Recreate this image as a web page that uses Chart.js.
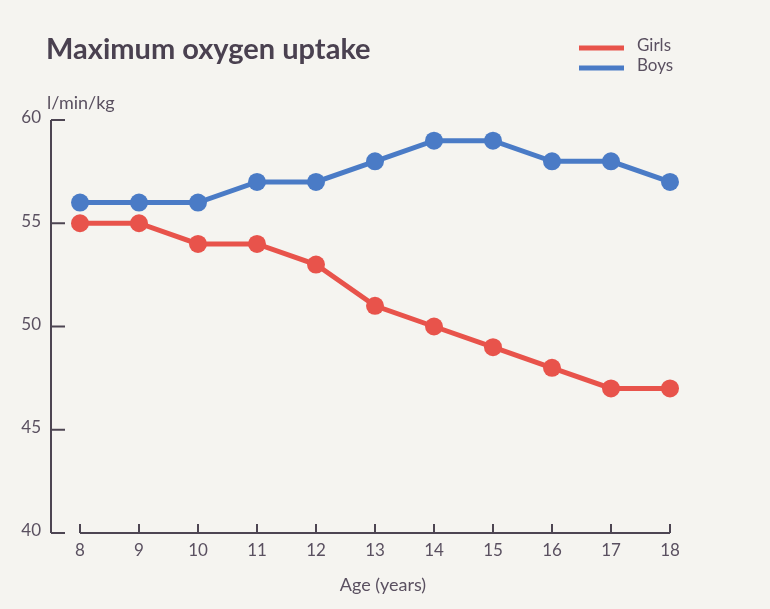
<!DOCTYPE html>
<html>
<head>
<meta charset="utf-8">
<script src="https://cdn.jsdelivr.net/npm/chart.js@4"></script>
<style>
  body { margin: 0; background: #f5f4f0; }
  #wrap { width: 770px; height: 609px; position: relative; }
</style>
</head>
<body>
<div id="wrap"><canvas id="myChart" width="770" height="609"></canvas></div>
<script>
// chart data
const ages = [8, 9, 10, 11, 12, 13, 14, 15, 16, 17, 18];
const girls = [55, 55, 54, 54, 53, 51, 50, 49, 48, 47, 47];
const boys = [56, 56, 56, 57, 57, 58, 59, 59, 58, 58, 57];
const yTicks = [40, 45, 50, 55, 60];

const red = '#e8534b';
const blue = '#4a7bc6';
const textColor = '#5a5060';

// draws the axes, title and legend the way the printed chart has them
const axesPlugin = {
    id: 'axesPlugin',
    beforeDatasetsDraw(chart) {
        const ctx = chart.ctx;
        const x = chart.scales.x;
        const y = chart.scales.y;
        const yAxisX = 51;
        ctx.save();
        ctx.strokeStyle = '#4d4552';
        ctx.lineWidth = 2;

        // y axis
        ctx.beginPath();
        ctx.moveTo(yAxisX, y.getPixelForValue(60));
        ctx.lineTo(yAxisX, y.getPixelForValue(40));
        ctx.stroke();
        ctx.font = '17px Lato';
        ctx.fillStyle = textColor;
        ctx.textAlign = 'right';
        ctx.textBaseline = 'middle';
        yTicks.forEach(v => {
            const py = y.getPixelForValue(v);
            ctx.beginPath();
            ctx.moveTo(yAxisX, py);
            ctx.lineTo(yAxisX + 14, py);
            ctx.stroke();
            ctx.fillText(String(v), 41, py - 2);
        });

        // x axis
        const base = y.getPixelForValue(40);
        ctx.beginPath();
        ctx.moveTo(x.getPixelForValue(8), base);
        ctx.lineTo(x.getPixelForValue(18), base);
        ctx.stroke();
        ctx.textAlign = 'center';
        ages.forEach(a => {
            const px = x.getPixelForValue(a);
            ctx.beginPath();
            ctx.moveTo(px, base);
            ctx.lineTo(px, base - 9);
            ctx.stroke();
            ctx.fillText(String(a), px, base + 18);
        });
        ctx.font = '18px Lato';
        ctx.fillText('Age (years)', (x.left + x.right) / 2 + 8, 585);

        // unit label
        ctx.textAlign = 'left';
        ctx.fillText('l/min/kg', 47, 103);

        // title
        ctx.font = 'bold 29px Lato';
        ctx.fillStyle = '#4a4150';
        ctx.fillText('Maximum oxygen uptake', 46, 50);

        // legend
        ctx.font = '17px Lato';
        ctx.fillStyle = textColor;
        ctx.lineWidth = 5;
        chart.data.datasets.forEach((ds, i) => {
            const ly = 48 + i * 20;
            ctx.strokeStyle = ds.borderColor;
            ctx.beginPath();
            ctx.moveTo(579, ly);
            ctx.lineTo(624, ly);
            ctx.stroke();
            ctx.fillText(ds.label, 637, ly - 2);
        });
        ctx.restore();
    }
};

function toPoints(values) {
    return ages.map((a, i) => ({ x: a, y: values[i] }));
}

const ctx = document.getElementById('myChart').getContext('2d');
const oxygenChart = new Chart(ctx, {
    type: 'line',
    data: {
        datasets: [{
            label: 'Girls',
            data: toPoints(girls),
            borderColor: red,
            backgroundColor: red,
            borderWidth: 5,
            pointRadius: 9,
            pointBorderWidth: 0,
            tension: 0,
        }, {
            label: 'Boys',
            data: toPoints(boys),
            borderColor: blue,
            backgroundColor: blue,
            borderWidth: 5,
            pointRadius: 9,
            pointBorderWidth: 0,
            tension: 0,
        }]
    },
    options: {
        responsive: false,
        animation: false,
        clip: false,
        layout: { padding: { left: 80, right: 100, top: 120, bottom: 76 } },
        scales: {
            x: { type: 'linear', min: 8, max: 18, display: false },
            y: { min: 40, max: 60, display: false }
        },
        plugins: {
            legend: { display: false },
            tooltip: { enabled: false }
        }
    },
    plugins: [axesPlugin]
});
</script>
</body>
</html>
